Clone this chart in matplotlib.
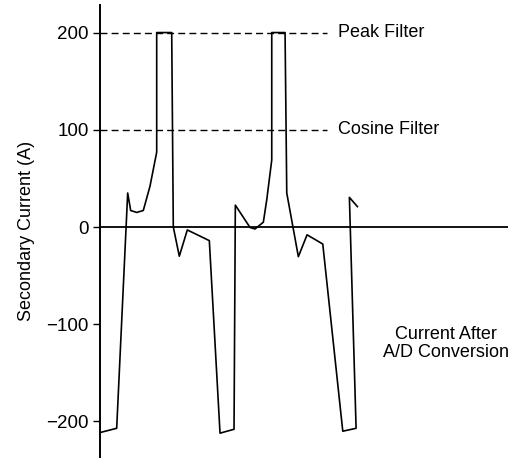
import matplotlib.pyplot as plt

plt.rcParams['font.family'] = ['Liberation Sans', 'DejaVu Sans']

# waveform after A/D conversion (x in samples, y in A)
t = [1.5, 16.7, 27.7, 30.7, 36.7, 43.3, 50, 56.7, 56.7, 71.7, 73.3, 79.3, 87.3,
     109.3, 120, 134, 135.3, 150, 155, 163.3, 166.7, 171.7, 171.7, 185, 186.7,
     198.3, 207, 222.7, 242.7, 256, 249.3, 257.3]
i_sec = [-211, -207, 35, 17, 15, 17, 42, 77, 200, 200, 0, -30, -3,
         -14, -212, -208, 22.5, -0.5, -2, 5, 28, 69, 200, 200, 35,
         -30.5, -8, -17.5, -210, -207, 30.5, 21]

filter_levels = [200, 100]
filter_names = ['Peak Filter', 'Cosine Filter']
yticks = [200, 100, 0, -100, -200]

fig = plt.figure(figsize=(5.18, 4.59), dpi=100)
ax = fig.add_axes([0.193, 0.0044, 0.788, 0.9846])

ax.plot(t, i_sec, color='black', lw=1.2)
ax.axhline(0, color='black', lw=1.3)

for lvl, name in zip(filter_levels, filter_names):
    ax.plot([0, 227], [lvl, lvl], color='black', lw=1.0, dashes=(5, 3))
    ax.text(238, lvl, name, fontsize=13, va='center', ha='left')

ax.text(346, -120, 'Current After\nA/D Conversion', fontsize=13,
        ha='center', va='center', linespacing=1.1)

ax.set_xlim(0, 408)
ax.set_ylim(-236.5, 228.3)
ax.set_yticks(yticks)
ax.set_yticklabels(['200', '100', '0', '\u2212100', '\u2212200'], fontsize=13.5)
ax.set_xticks([])
ax.set_ylabel('Secondary Current (A)', fontsize=13, labelpad=8)

for s in ['top', 'right', 'bottom']:
    ax.spines[s].set_visible(False)
ax.spines['left'].set_linewidth(1.4)
ax.tick_params(axis='y', length=5, width=1.0, pad=3)

plt.savefig('out.png', dpi=100)
